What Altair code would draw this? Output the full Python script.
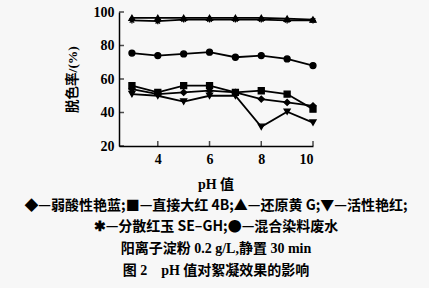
import altair as alt
import pandas as pd

ph = [3, 4, 5, 6, 7, 8, 9, 10]
series_names = ["弱酸性艳蓝", "直接大红 4B", "还原黄 G", "活性艳红", "分散红玉 SE-GH", "混合染料废水"]
weak_acid_blue = [54, 51, 52, 53, 52, 48, 46, 44]
direct_red = [56, 52, 56, 56, 52, 53, 51, 42]
vat_yellow = [96.5, 96.5, 96.5, 96.5, 96.5, 96.5, 96, 95.5]
reactive_red = [51, 50, 46.5, 50, 50, 31.5, 40.5, 34]
disperse_red = [95, 94.5, 95.5, 95.5, 95.5, 95.5, 95, 95]
mixed = [75.5, 74, 75, 76, 73, 74, 72, 68]

x_ticks = [4, 6, 8, 10]
y_ticks = [20, 40, 60, 80, 100]

values = [weak_acid_blue, direct_red, vat_yellow, reactive_red, disperse_red, mixed]
rows = []
for name, vals in zip(series_names, values):
    for p, v in zip(ph, vals):
        rows.append({"pH": p, "rate": v, "series": name})
df = pd.DataFrame(rows)

shapes = ["diamond", "square", "triangle-up", "triangle-down",
          "M-1,0L1,0M0,-1L0,1M-0.75,-0.75L0.75,0.75M-0.75,0.75L0.75,-0.75",
          "circle"]

FONT = "Liberation Serif, Noto Sans CJK SC"
CJK = "Noto Sans CJK SC"

xscale = alt.Scale(domain=[2.5, 10], nice=False)
yscale = alt.Scale(domain=[20, 100], nice=False)

x_axis = alt.Axis(values=x_ticks, ticks=False, grid=False, labelPadding=6,
                  labelOverlap=False, title=None,
                  labelFont="Liberation Serif", labelFontSize=14, labelFontWeight="bold",
                  labelColor="black", domainColor="black", domainWidth=1.5)
y_axis = alt.Axis(values=y_ticks, ticks=False, grid=False, labelPadding=5,
                  labelOverlap=False, labelBound=False, title="脱色率/(%)",
                  labelFont="Liberation Serif", labelFontSize=14, labelFontWeight="bold",
                  labelColor="black", domainColor="black", domainWidth=1.5,
                  titleFont=FONT, titleFontSize=13.5, titleFontWeight="bold",
                  titleColor="black", titlePadding=14)

base = alt.Chart(df)
lines = base.mark_line(color="black", strokeWidth=1.8).encode(
    x=alt.X("pH:Q", scale=xscale, axis=x_axis, title=None),
    y=alt.Y("rate:Q", scale=yscale, axis=y_axis, title="脱色率/(%)"),
    detail="series:N")
points = base.mark_point(filled=True, color="black", stroke="black", strokeWidth=1.3, size=36, opacity=1).encode(
    x=alt.X("pH:Q", scale=xscale, axis=x_axis, title=None),
    y=alt.Y("rate:Q", scale=yscale, axis=y_axis, title="脱色率/(%)"),
    shape=alt.Shape("series:N", scale=alt.Scale(domain=series_names, range=shapes), legend=None))

xt = alt.Chart(pd.DataFrame({"v": x_ticks})).mark_tick(color="black", thickness=1.5, size=5,
                                                       orient="vertical").encode(
    x=alt.X("v:Q", scale=xscale, axis=x_axis, title=None), y=alt.value(131.5))
yt = alt.Chart(pd.DataFrame({"v": y_ticks})).mark_tick(color="black", thickness=1.5, size=5,
                                                       orient="horizontal").encode(
    y=alt.Y("v:Q", scale=yscale, axis=y_axis, title="脱色率/(%)"), x=alt.value(2.5))

texts_a = ["pH 值"]
texts_b = ["◆—弱酸性艳蓝;■—直接大红 4B;▲—还原黄 G;▼—活性艳红;",
           "✱—分散红玉 SE–GH;●—混合染料废水"]
texts_c = ["阳离子淀粉 0.2 g/L,静置 30 min",
           "图 2　pH 值对絮凝效果的影响"]
y_a = [185]
y_b = [206, 227]
y_c = [249, 271]


def cap_layer(texts, ys, font, size):
    tdf = pd.DataFrame({"t": texts, "ty": [v - 12 for v in ys]})
    return alt.Chart(tdf).mark_text(font=font, fontSize=size, fontWeight="bold",
                                    color="black", align="center", baseline="middle").encode(
        text="t:N", x=alt.value(97), y=alt.value(0), yOffset=alt.YOffset("ty:Q", scale=None))


cap_a = cap_layer(texts_a, y_a, FONT, 14)
cap_b = cap_layer(texts_b, y_b, CJK, 14)
cap_c = cap_layer(texts_c, y_c, FONT, 14)

chart = alt.layer(lines, points, xt, yt, cap_a, cap_b, cap_c).properties(
    width=194, height=134,
    autosize=alt.AutoSizeParams(type="none"),
    padding={"left": 119, "top": 12, "right": 116, "bottom": 142},
    background="#f7f7f7"
).configure_view(stroke=None)

chart.save("out.html", embed_options={"renderer": "svg", "actions": False})
